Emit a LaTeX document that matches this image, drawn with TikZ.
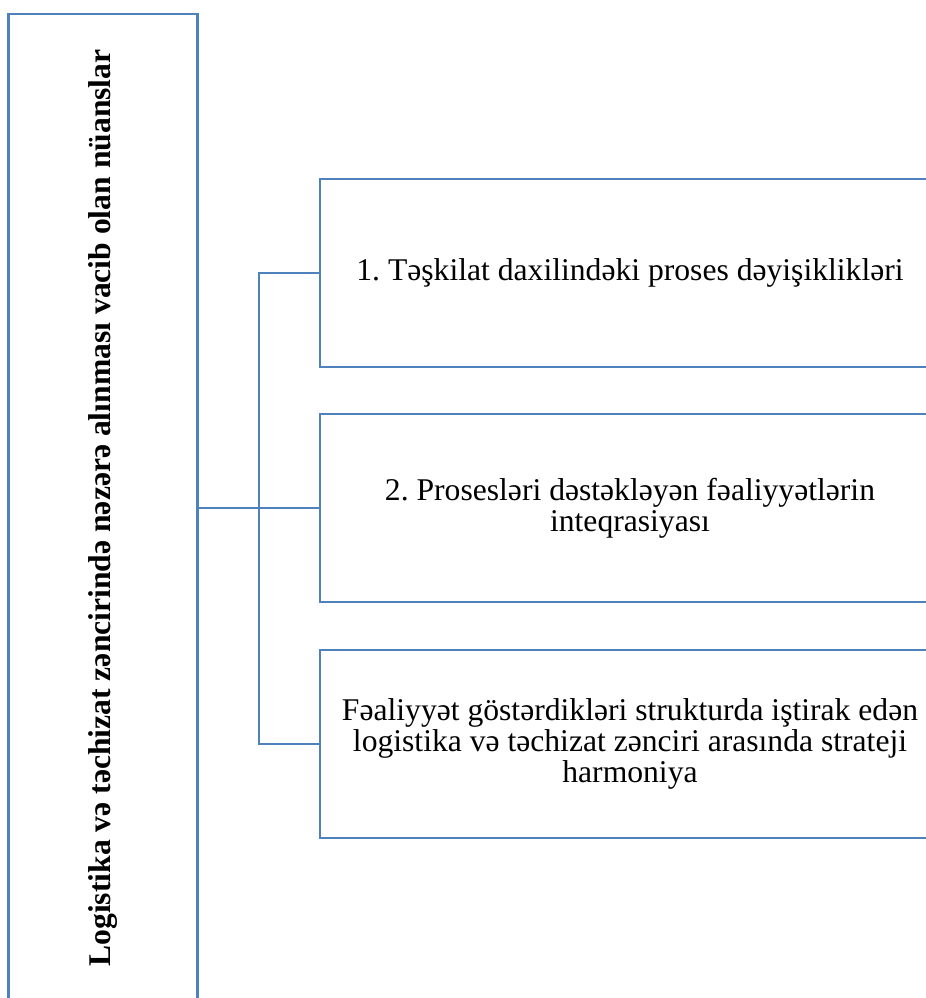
\documentclass[tikz,border=0pt]{standalone}
\usepackage{fontspec}
\setmainfont{Liberation Serif}
\usepackage{tikz}
\frenchspacing

\definecolor{boxblue}{RGB}{79,129,189}

\begin{document}
\begin{tikzpicture}[x=0.02cm, y=-0.02cm]
    % Text size
    \newcommand{\boxfont}{\fontsize{18pt}{17.8pt}\selectfont}
    % Spine x
    \newcommand{\spinex}{259}
    % Boxes
    \tikzstyle{mainbox}=[draw=boxblue, line width=1.5pt, minimum width=3.78cm, minimum height=19.76cm, inner sep=0]
    \tikzstyle{itembox}=[draw=boxblue, line width=1.5pt, minimum width=12.4cm, minimum height=3.76cm, align=center, inner sep=0]
    \tikzstyle{link}=[draw=boxblue, line width=1.5pt]

    \useasboundingbox (0,0) rectangle (926,998);
    \clip (0,0) rectangle (926,998);

    % Left box
    \node[mainbox] (Main) at (103,508) {};
    \node[rotate=90, font=\boxfont\bfseries] (Main-text) at (Main.center)
    {Logistika və təchizat zəncirində nəzərə alınması vacib olan nüanslar};

    % Right boxes
    \node[itembox, font=\boxfont] (Item-1) at (630,273)
    {1. Təşkilat daxilindəki proses dəyişiklikləri};
    \node[itembox, font=\boxfont] (Item-2) at (630,508)
    {2. Prosesləri dəstəkləyən fəaliyyətlərin\\inteqrasiyası};
    \node[itembox, font=\boxfont] (Item-3) at (630,744)
    {Fəaliyyət göstərdikləri strukturda iştirak edən\\logistika və təchizat zənciri arasında strateji\\harmoniya};

    % Connectors
    \coordinate (Spine) at (\spinex,508);
    \draw[link] (Main.east) -- (Item-2.west);
    \draw[link] (Item-1.west) -| (Spine) |- (Item-3.west);
  \end{tikzpicture}
\end{document}
